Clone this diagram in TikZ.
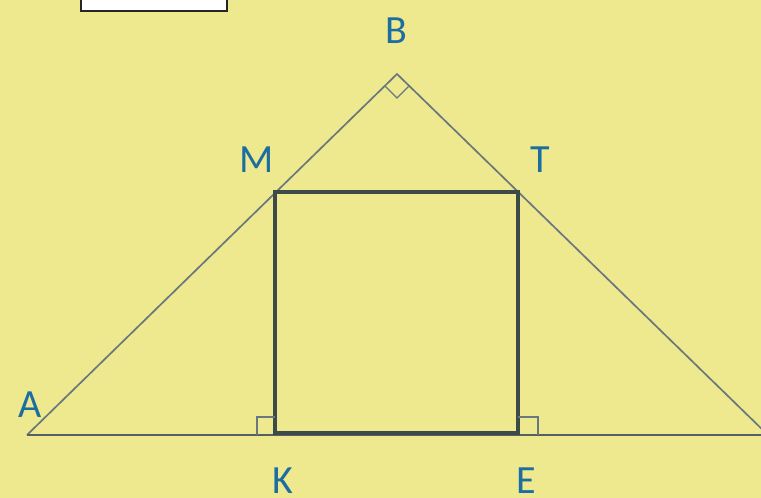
\documentclass[tikz,border=0pt]{standalone}
\usepackage{fontspec}
\setmainfont{Carlito}
\usetikzlibrary{calc}
\definecolor{bg}{RGB}{238,232,142}
\definecolor{thin}{RGB}{105,120,125}
\definecolor{sq}{RGB}{60,75,72}
\definecolor{lbl}{RGB}{28,110,160}
\begin{document}
\begin{tikzpicture}[x=1pt,y=-1pt,
  lab/.style={text=lbl,font=\fontsize{40}{40}\selectfont,inner sep=0pt},
  side/.style={draw=thin,line width=1.7pt},
  sqline/.style={draw=sq,line width=3.8pt,line join=miter},
  rmark/.style={draw=thin,line width=1.4pt}]
\fill[bg] (0,0) rectangle (761,498);
\useasboundingbox (0,0) rectangle (761,498);
\draw[fill=white,draw=black!85,line width=2.2pt] (81,-5) rectangle (227,11);
\coordinate (A) at (27,435);
\coordinate (B) at (397,74);
\coordinate (C) at (768,435);
\coordinate (M) at (275,192);
\coordinate (T) at (518,192);
\coordinate (K) at (275,433);
\coordinate (E) at (518,433);
\draw[side] (A) -- (B) -- (C);
\draw[draw=thin!80!black,line width=2.2pt] (A) -- (C);
\draw[sqline] (M) -- (T) -- (E) -- (K) -- cycle;
\draw[rmark] ($(B)+(-12,12)$) -- ($(B)+(0,24)$) -- ($(B)+(12,12)$);
\draw[rmark] (257,435) -- (257,417) -- (275,417);
\draw[rmark] (518,417) -- (538,417) -- (538,435);
\node[lab] (lB) at (396,31) {B};
\node[lab] (lM) at (257,160) {M};
\node[lab] (lT) at (540,160) {T};
\node[lab] (lA) at (30,405) {A};
\node[lab] (lK) at (283,481) {K};
\node[lab] (lE) at (526,481) {E};
\end{tikzpicture}
\end{document}
